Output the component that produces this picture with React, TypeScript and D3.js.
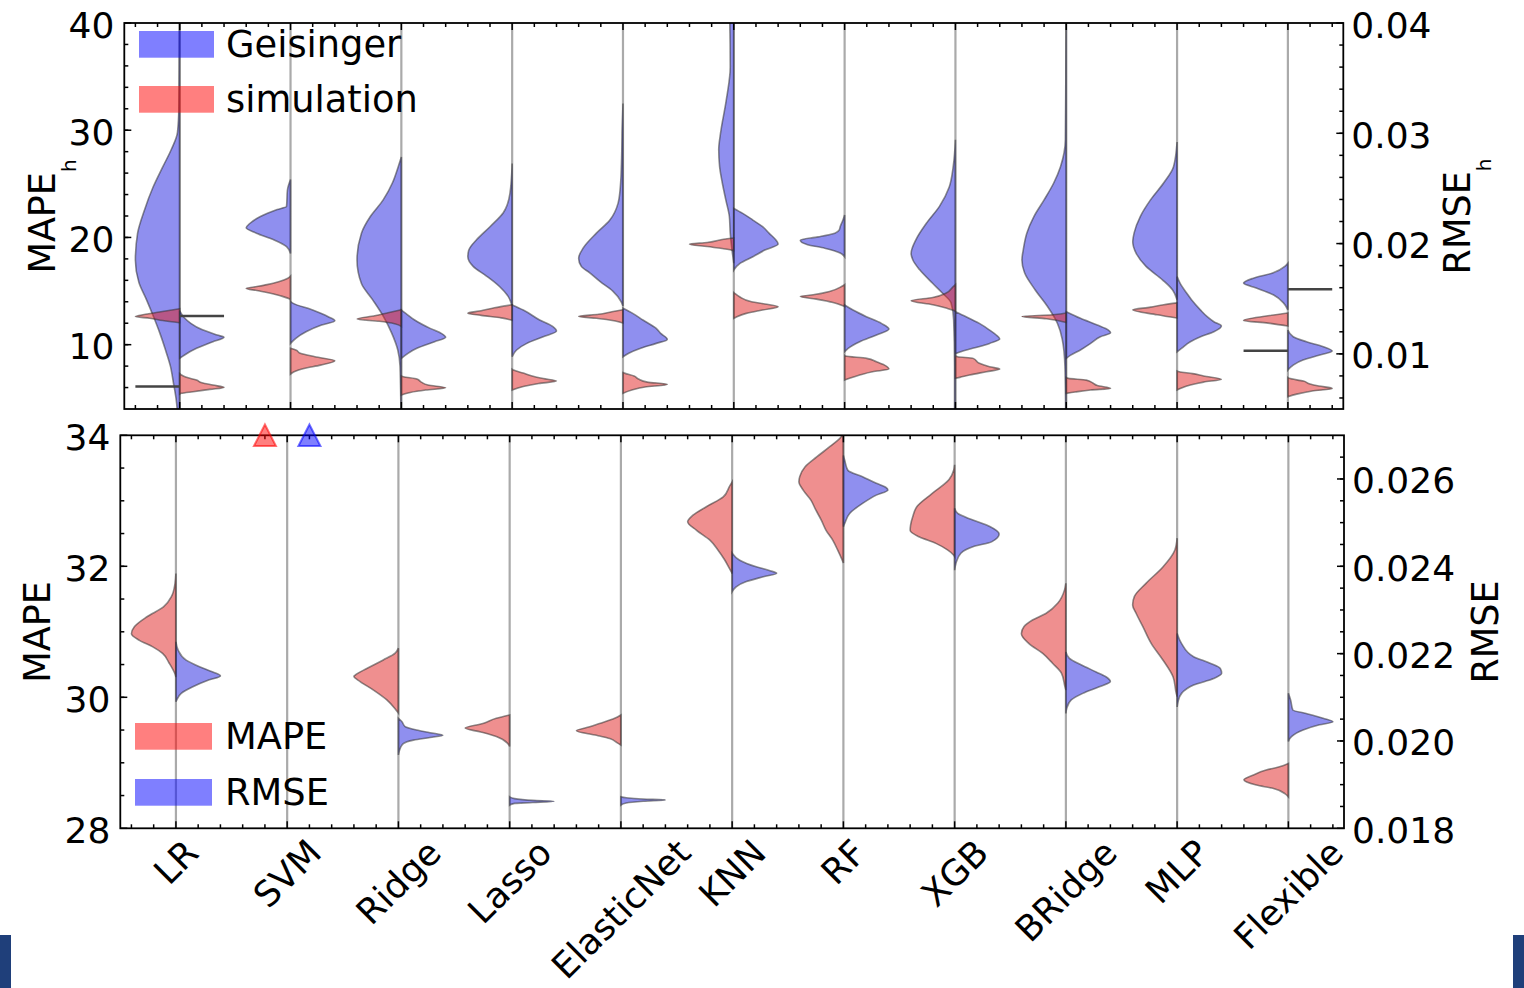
import React from 'react'
import * as d3 from 'd3'

type Prof = [number, number][]

// categories and tick labels
const categories = ['LR', 'SVM', 'Ridge', 'Lasso', 'ElasticNet', 'KNN', 'RF', 'XGB', 'BRidge', 'MLP', 'Flexible']
const mapeHTicks = [10, 20, 30, 40]
const rmseHTicks = [0.01, 0.02, 0.03, 0.04]
const mapeTicks = [28, 30, 32, 34]
const rmseTicks = [0.018, 0.02, 0.022, 0.024, 0.026]

// half-violin profiles: [value, relative width]
const geisingerMapeH: Prof[] = [
  [[44, 0], [38, 0.01], [32, 0.02], [29.8, 0.05], [28.2, 0.19], [26.6, 0.38], [24.7, 0.6], [22.5, 0.8], [20.4, 0.95], [17.9, 1], [15.8, 0.92], [14.2, 0.75], [12.6, 0.59], [11.1, 0.45], [9.5, 0.32], [8, 0.21], [6.4, 0.14], [4.9, 0.08], [2, 0.03], [0, 0]],
  [[25.4, 0], [24.4, 0.07], [22.9, 0.09], [22.6, 0.3], [21.95, 0.68], [21.3, 0.92], [20.9, 1], [20.4, 0.77], [19.8, 0.39], [19.15, 0.09], [18.5, 0]],
  [[27.5, 0], [26.6, 0.07], [25.1, 0.2], [23.5, 0.41], [21.95, 0.7], [20.4, 0.9], [17.9, 1], [15.7, 0.9], [14.2, 0.65], [12.6, 0.4], [11.1, 0.22], [9.5, 0.08], [8, 0.03], [4, 0.01], [0, 0]],
  [[26.9, 0], [24.1, 0.05], [22.3, 0.2], [21.0, 0.5], [19.8, 0.8], [18.8, 0.98], [18.2, 1], [17.3, 0.88], [16.4, 0.58], [15.4, 0.28], [14.5, 0.09], [13.6, 0]],
  [[32.5, 0], [30, 0.02], [27.5, 0.03], [24.7, 0.06], [23.2, 0.11], [21.6, 0.3], [20.4, 0.6], [19.0, 0.9], [18.07, 1], [17.3, 0.94], [16.7, 0.75], [15.9, 0.52], [15.0, 0.23], [14.0, 0.04], [13.6, 0]],
  [[50, 0], [46, 0.4], [43, 0.15], [40, 0.09], [35.9, 0.08], [32.8, 0.17], [29.7, 0.3], [28.2, 0.34], [26.6, 0.32], [25.1, 0.26], [23.5, 0.18], [21.95, 0.1], [20.4, 0.08], [18.5, 0.03], [17.6, 0]],
  [[22.1, 0], [21.6, 0.04], [21.0, 0.1], [20.7, 0.12], [20.4, 0.22], [20.05, 0.6], [19.75, 1], [19.35, 0.85], [19.0, 0.45], [18.55, 0.1], [18.2, 0]],
  [[29.1, 0], [26.6, 0.05], [24.7, 0.14], [22.9, 0.36], [21.3, 0.66], [19.8, 0.89], [18.5, 1], [17.9, 0.96], [17.0, 0.81], [15.7, 0.51], [14.8, 0.29], [13.9, 0.1], [12.3, 0.04], [8, 0.02], [3, 0.02], [1, 0]],
  [[42, 0], [40, 0.005], [35, 0.01], [29.1, 0.02], [26.6, 0.13], [25.1, 0.28], [23.5, 0.5], [21.95, 0.73], [20.4, 0.89], [18.84, 0.97], [17.9, 1], [16.7, 0.94], [15.1, 0.7], [13.6, 0.43], [12.0, 0.2], [10.5, 0.09], [8, 0.03], [3, 0.01], [1, 0]],
  [[28.9, 0], [26.6, 0.08], [25.1, 0.3], [23.5, 0.6], [21.95, 0.83], [20.4, 0.97], [19.6, 1], [18.5, 0.92], [17.3, 0.7], [16.05, 0.33], [15.1, 0.1], [14.2, 0]],
  [[17.6, 0], [17.3, 0.07], [16.7, 0.33], [16.2, 0.78], [15.74, 1], [15.27, 0.7], [14.65, 0.33], [13.9, 0.1], [13.25, 0]],
]

const simulationMapeH: Prof[] = [
  [[13.35, 0], [13.0, 0.53], [12.83, 0.77], [12.62, 1], [12.47, 0.68], [12.25, 0.38], [12.05, 0]],
  [[16.4, 0], [16.2, 0.06], [15.9, 0.25], [15.6, 0.53], [15.37, 0.83], [15.24, 1], [15.05, 0.76], [14.87, 0.53], [14.56, 0.23], [14.25, 0.02], [14.15, 0]],
  [[13.25, 0], [12.97, 0.3], [12.69, 0.6], [12.39, 1], [12.18, 0.5], [11.95, 0.15], [11.7, 0]],
  [[13.72, 0], [13.44, 0.4], [13.16, 0.7], [12.94, 1], [12.73, 0.7], [12.5, 0.25], [12.27, 0]],
  [[13.25, 0], [13.07, 0.25], [12.83, 0.55], [12.63, 1], [12.46, 0.6], [12.23, 0.2], [12.01, 0]],
  [[19.95, 0], [19.88, 0.15], [19.53, 0.6], [19.37, 1], [19.15, 0.6], [18.9, 0.15], [18.77, 0]],
  [[15.6, 0], [15.42, 0.07], [14.96, 0.34], [14.65, 0.71], [14.49, 1], [14.25, 0.64], [13.94, 0.26], [13.63, 0.04], [13.55, 0]],
  [[15.6, 0], [15.42, 0.05], [14.81, 0.21], [14.4, 0.51], [14.09, 1], [13.72, 0.51], [13.41, 0.21], [13.16, 0.02], [13.1, 0]],
  [[12.96, 0], [12.79, 0.3], [12.63, 1], [12.41, 0.45], [12.07, 0]],
  [[13.9, 0], [13.72, 0.3], [13.5, 0.6], [13.25, 1], [12.79, 0.45], [12.48, 0]],
  [[12.96, 0], [12.69, 0.45], [12.26, 1], [12.01, 0.45], [11.74, 0]],
]

const geisingerRmseH: Prof[] = [
  [[0.0139, 0], [0.01325, 0.11], [0.01277, 0.25], [0.0122, 0.5], [0.0117, 0.85], [0.0115, 1], [0.0111, 0.75], [0.0105, 0.38], [0.0099, 0.11], [0.0096, 0]],
  [[0.01473, 0], [0.01458, 0.06], [0.01397, 0.5], [0.01337, 0.85], [0.013, 1], [0.01261, 0.7], [0.012, 0.35], [0.01141, 0.12], [0.01095, 0]],
  [[0.01397, 0], [0.01367, 0.1], [0.01307, 0.3], [0.01231, 0.65], [0.01186, 0.9], [0.0115, 1], [0.0111, 0.75], [0.0105, 0.35], [0.01005, 0.15], [0.00959, 0]],
  [[0.01443, 0], [0.01397, 0.25], [0.01307, 0.62], [0.01246, 0.92], [0.01207, 1], [0.01155, 0.7], [0.01095, 0.33], [0.01035, 0.1], [0.00974, 0]],
  [[0.01413, 0], [0.01367, 0.22], [0.01307, 0.45], [0.01231, 0.75], [0.01186, 0.85], [0.01131, 1], [0.01095, 0.75], [0.0105, 0.4], [0.01005, 0.13], [0.00974, 0]],
  [[0.02319, 0], [0.02274, 0.2], [0.02213, 0.43], [0.02153, 0.65], [0.02093, 0.8], [0.02032, 0.95], [0.01996, 1], [0.01941, 0.7], [0.01881, 0.43], [0.01821, 0.14], [0.0176, 0]],
  [[0.01443, 0], [0.01397, 0.19], [0.01337, 0.49], [0.01276, 0.83], [0.01225, 1], [0.01171, 0.72], [0.0111, 0.34], [0.0105, 0.08], [0.01019, 0]],
  [[0.01382, 0], [0.01337, 0.24], [0.01276, 0.54], [0.01216, 0.77], [0.01171, 0.92], [0.01134, 1], [0.01095, 0.77], [0.0105, 0.39], [0.01019, 0.12], [0.01, 0]],
  [[0.01382, 0], [0.01322, 0.32], [0.01261, 0.7], [0.01216, 0.95], [0.01191, 1], [0.01155, 0.77], [0.01095, 0.55], [0.01035, 0.32], [0.00989, 0.1], [0.00959, 0]],
  [[0.017, 0], [0.01639, 0.07], [0.01549, 0.22], [0.01488, 0.33], [0.01397, 0.53], [0.01337, 0.68], [0.01291, 0.83], [0.01252, 1], [0.012, 0.83], [0.01155, 0.53], [0.0111, 0.3], [0.0105, 0.1], [0.01019, 0]],
  [[0.01216, 0], [0.01155, 0.12], [0.0111, 0.42], [0.01065, 0.8], [0.01025, 1], [0.00989, 0.72], [0.00944, 0.34], [0.00898, 0.12], [0.00853, 0]],
]

const simulationRmseH: Prof[] = [
  [[0.0082, 0], [0.00808, 0.04], [0.00787, 0.15], [0.00762, 0.38], [0.00738, 0.5], [0.00717, 0.75], [0.00696, 1], [0.00678, 0.68], [0.00657, 0.3], [0.00642, 0.04], [0.00635, 0]],
  [[0.0105, 0], [0.01035, 0.12], [0.01005, 0.22], [0.00974, 0.55], [0.00937, 1], [0.00898, 0.68], [0.00868, 0.3], [0.00838, 0.08], [0.00817, 0]],
  [[0.008, 0], [0.00793, 0.05], [0.00772, 0.35], [0.00744, 0.45], [0.00717, 0.6], [0.00693, 1], [0.00672, 0.55], [0.0065, 0.2], [0.00627, 0]],
  [[0.0086, 0], [0.00853, 0.03], [0.00826, 0.25], [0.00799, 0.45], [0.00776, 0.7], [0.00753, 1], [0.00731, 0.6], [0.00704, 0.25], [0.00672, 0]],
  [[0.0083, 0], [0.00823, 0.05], [0.00799, 0.25], [0.00772, 0.35], [0.00744, 0.55], [0.00723, 1], [0.007, 0.5], [0.00672, 0.2], [0.00642, 0]],
  [[0.01555, 0], [0.01549, 0.02], [0.01518, 0.13], [0.01473, 0.4], [0.01452, 0.7], [0.01427, 1], [0.01397, 0.65], [0.01367, 0.28], [0.01337, 0.07], [0.01322, 0]],
  [[0.00985, 0], [0.0098, 0.02], [0.00959, 0.5], [0.00928, 0.72], [0.00898, 0.9], [0.00862, 1], [0.00838, 0.63], [0.00808, 0.34], [0.00778, 0.11], [0.00762, 0]],
  [[0.0098, 0], [0.00974, 0.05], [0.00959, 0.4], [0.00914, 0.54], [0.00883, 0.77], [0.00862, 1], [0.00838, 0.7], [0.00808, 0.32], [0.00787, 0.1], [0.00778, 0]],
  [[0.00785, 0], [0.00778, 0.05], [0.00762, 0.45], [0.00735, 0.6], [0.00713, 0.7], [0.00687, 1], [0.00672, 0.55], [0.00654, 0.2], [0.00642, 0]],
  [[0.00845, 0], [0.00838, 0.05], [0.00821, 0.35], [0.00799, 0.6], [0.00769, 1], [0.00744, 0.6], [0.00717, 0.3], [0.0069, 0.1], [0.00672, 0]],
  [[0.00785, 0], [0.00778, 0.03], [0.00753, 0.35], [0.00726, 0.5], [0.00708, 0.7], [0.00687, 1], [0.00663, 0.55], [0.00635, 0.2], [0.00611, 0]],
]

// bottom panel: MAPE (left half) and RMSE (right half); SVM is off the scale
const mapeProf: Prof[] = [
  [[31.89, 0], [31.74, 0.02], [31.54, 0.1], [31.38, 0.28], [31.23, 0.65], [31.08, 0.93], [30.97, 1], [30.87, 0.82], [30.77, 0.52], [30.67, 0.3], [30.52, 0.15], [30.37, 0.03], [30.31, 0]],
  [],
  [[30.75, 0], [30.67, 0.08], [30.57, 0.34], [30.44, 0.71], [30.34, 0.97], [30.32, 1], [30.24, 0.86], [30.11, 0.56], [29.96, 0.26], [29.83, 0.08], [29.76, 0]],
  [[29.73, 0], [29.68, 0.3], [29.6, 0.6], [29.53, 1], [29.47, 0.65], [29.4, 0.3], [29.3, 0.05], [29.25, 0]],
  [[29.73, 0], [29.68, 0.14], [29.6, 0.48], [29.55, 0.7], [29.49, 1], [29.42, 0.55], [29.37, 0.25], [29.3, 0.07], [29.27, 0]],
  [[33.29, 0], [33.22, 0.06], [33.06, 0.2], [32.91, 0.58], [32.78, 0.88], [32.68, 1], [32.55, 0.8], [32.4, 0.5], [32.25, 0.32], [32.1, 0.17], [31.94, 0.04], [31.89, 0]],
  [[34.1, 0], [33.98, 0.05], [33.83, 0.3], [33.67, 0.6], [33.52, 0.86], [33.37, 0.98], [33.29, 1], [33.16, 0.9], [33.01, 0.73], [32.86, 0.62], [32.71, 0.5], [32.55, 0.39], [32.4, 0.24], [32.25, 0.13], [32.1, 0.03], [32.05, 0]],
  [[33.55, 0], [33.47, 0.02], [33.32, 0.13], [33.11, 0.51], [32.91, 0.85], [32.76, 0.94], [32.63, 0.99], [32.55, 1], [32.45, 0.8], [32.35, 0.42], [32.25, 0.16], [32.17, 0.02], [32.15, 0]],
  [[31.74, 0], [31.64, 0.03], [31.44, 0.18], [31.28, 0.45], [31.18, 0.75], [31.08, 0.94], [30.97, 1], [30.82, 0.83], [30.67, 0.52], [30.52, 0.3], [30.37, 0.1], [30.16, 0.02], [30.11, 0]],
  [[32.43, 0], [32.25, 0.05], [31.99, 0.32], [31.74, 0.7], [31.54, 0.96], [31.41, 1], [31.28, 0.92], [31.08, 0.77], [30.82, 0.58], [30.57, 0.32], [30.31, 0.09], [30.06, 0.02], [30.01, 0]],
  [[28.99, 0], [28.94, 0.2], [28.89, 0.5], [28.81, 0.8], [28.74, 1], [28.66, 0.72], [28.61, 0.35], [28.53, 0.08], [28.48, 0]],
]

const rmseProf: Prof[] = [
  [[0.02227, 0], [0.02208, 0.05], [0.02185, 0.23], [0.0217, 0.53], [0.02158, 0.83], [0.02149, 1], [0.0214, 0.75], [0.02124, 0.38], [0.02109, 0.12], [0.02094, 0.02], [0.0209, 0]],
  [],
  [[0.02052, 0], [0.02044, 0.08], [0.02033, 0.15], [0.02025, 0.41], [0.02019, 0.71], [0.02013, 1], [0.02008, 0.71], [0.02002, 0.34], [0.01994, 0.11], [0.01983, 0.04], [0.01968, 0]],
  [[0.01872, 0], [0.01868, 0.11], [0.01864, 0.52], [0.01862, 1], [0.01859, 0.52], [0.01857, 0.11], [0.01853, 0]],
  [[0.01872, 0], [0.0187, 0.12], [0.01867, 0.5], [0.01865, 1], [0.01862, 0.5], [0.01858, 0.12], [0.01853, 0]],
  [[0.0243, 0], [0.02414, 0.17], [0.02399, 0.54], [0.0239, 0.85], [0.02384, 1], [0.02376, 0.7], [0.02365, 0.32], [0.02353, 0.09], [0.02342, 0]],
  [[0.02654, 0], [0.02643, 0.03], [0.0262, 0.1], [0.02605, 0.43], [0.0259, 0.74], [0.02581, 0.95], [0.02575, 1], [0.02563, 0.74], [0.02544, 0.43], [0.02521, 0.14], [0.02498, 0.03], [0.02491, 0]],
  [[0.02533, 0], [0.02521, 0.07], [0.02506, 0.41], [0.02491, 0.79], [0.02474, 1], [0.02456, 0.83], [0.02445, 0.41], [0.0243, 0.14], [0.02407, 0.03], [0.02391, 0]],
  [[0.02204, 0], [0.02189, 0.08], [0.02174, 0.35], [0.02158, 0.68], [0.02147, 0.9], [0.02136, 1], [0.02124, 0.75], [0.02109, 0.38], [0.02094, 0.12], [0.02075, 0.02], [0.02063, 0]],
  [[0.02246, 0], [0.02223, 0.1], [0.02193, 0.37], [0.02178, 0.74], [0.02166, 0.97], [0.02155, 1], [0.02143, 0.82], [0.02128, 0.37], [0.02109, 0.1], [0.0209, 0.02], [0.02078, 0]],
  [[0.02109, 0], [0.02094, 0.05], [0.02071, 0.1], [0.02063, 0.4], [0.02052, 0.78], [0.02044, 1], [0.02037, 0.7], [0.02025, 0.33], [0.0201, 0.07], [0.01999, 0]],
]

// single-value marks in the top panel: [category index, value]
const refMapeH: [number, number][] = [[0, 6.1], [10, 9.43]]
const refRmseH: [number, number][] = [[0, 0.01343], [10, 0.01585]]
// SVM values above the bottom panel: [category index, value]
const offMape: [number, number][] = [[1, 34]]
const offRmse: [number, number][] = [[1, 0.027]]

const FONT = '"DejaVu Sans", sans-serif'
const BLUE = 'rgb(32,32,223)'
const RED = 'rgb(223,32,32)'

const xTop = d3.scaleLinear().domain([-0.5, 10.5]).range([124.3, 1343.3])
const yMapeH = d3.scaleLinear().domain([4, 40]).range([409, 23])
const yRmseH = d3.scaleLinear().domain([0.005, 0.04]).range([409, 23])
const xBot = d3.scaleLinear().domain([-0.5, 10.5]).range([120.3, 1344])
const yMape = d3.scaleLinear().domain([28, 34]).range([828.3, 435.3])
const yRmse = d3.scaleLinear().domain([0.018, 0.027]).range([828.3, 435.3])

const steps = (a: number, b: number, s: number) => d3.range(0, Math.round((b - a) / s) + 1).map(i => a + i * s)

let ctx: CanvasRenderingContext2D | null = null
function textWidth(s: string, size: number) {
  if (!ctx) ctx = document.createElement('canvas').getContext('2d')
  if (!ctx) return s.length * size * 0.6
  ctx.font = `${size}px "DejaVu Sans"`
  return ctx.measureText(s).width
}

function HalfViolin({ prof, cx, side, y, halfW, color }: { prof: Prof; cx: number; side: number; y: d3.ScaleLinear<number, number>; halfW: number; color: string }) {
  if (!prof.length) return null
  const pts = [...prof].sort((a, b) => y(a[0]) - y(b[0]))
  const area = d3.area<[number, number]>()
    .y(d => y(d[0]))
    .x0(cx)
    .x1(d => cx + side * d[1] * halfW)
    .curve(d3.curveMonotoneY)
  return <path d={area(pts) || ''} fill={color} fillOpacity={0.5} stroke="rgb(50,50,50)" strokeOpacity={0.55} strokeWidth={1.6} />
}

function Frame({ x, yl, yr, lMajor, lMinor, rMajor, rMinor, lFmt, rFmt }: any) {
  const [x0, x1] = x.range()
  const [y0, y1] = yl.range()
  const xMinor = steps(-0.4, 10.4, 0.2)
  return (
    <g stroke="#000" strokeWidth={1.5}>
      {xMinor.map((v, i) => {
        const major = Math.abs(v - Math.round(v)) < 1e-6
        const l = major ? 7 : 4
        return <g key={i}>
          <line x1={x(v)} x2={x(v)} y1={y0} y2={y0 - l} />
          <line x1={x(v)} x2={x(v)} y1={y1} y2={y1 + l} />
        </g>
      })}
      {lMinor.map((v: number, i: number) => <line key={'lm' + i} x1={x0} x2={x0 + 4} y1={yl(v)} y2={yl(v)} />)}
      {lMajor.map((v: number, i: number) => <line key={'lM' + i} x1={x0} x2={x0 + 7} y1={yl(v)} y2={yl(v)} />)}
      {rMinor.map((v: number, i: number) => <line key={'rm' + i} x1={x1} x2={x1 - 4} y1={yr(v)} y2={yr(v)} />)}
      {rMajor.map((v: number, i: number) => <line key={'rM' + i} x1={x1} x2={x1 - 7} y1={yr(v)} y2={yr(v)} />)}
      <rect x={x0} y={y1} width={x1 - x0} height={y0 - y1} fill="none" strokeWidth={1.8} />
      <g stroke="none" fill="#000" fontSize={36} fontFamily={FONT}>
        {lMajor.map((v: number, i: number) => <text key={'lt' + i} x={x0 - 10} y={yl(v) + 14.5} textAnchor="end">{lFmt(v)}</text>)}
        {rMajor.map((v: number, i: number) => <text key={'rt' + i} x={x1 + 8} y={yr(v) + 14.5}>{rFmt(v)}</text>)}
      </g>
    </g>
  )
}

export default function App() {
  const hwTop = 0.4 * (xTop(1) - xTop(0))
  const hwBot = 0.4 * (xBot(1) - xBot(0))
  return (
    <svg width={1524} height={988} style={{ position: 'absolute', left: 0, top: 0, background: '#fff' }} fontFamily={FONT}>
      <defs>
        <clipPath id="clipTop"><rect x={xTop(-0.5)} y={yMapeH(40)} width={xTop(10.5) - xTop(-0.5)} height={yMapeH(4) - yMapeH(40)} /></clipPath>
        <clipPath id="clipBot"><rect x={xBot(-0.5)} y={yMape(34)} width={xBot(10.5) - xBot(-0.5)} height={yMape(28) - yMape(34)} /></clipPath>
      </defs>

      {/* top panel */}
      <g clipPath="url(#clipTop)">
        {categories.map((c, i) => <line key={c} x1={xTop(i)} x2={xTop(i)} y1={yMapeH(40)} y2={yMapeH(4)} stroke="#aaa" strokeWidth={2.2} />)}
        {categories.map((c, i) => (
          <g key={c}>
            <HalfViolin prof={geisingerMapeH[i]} cx={xTop(i)} side={-1} y={yMapeH} halfW={hwTop} color={BLUE} />
            <HalfViolin prof={simulationMapeH[i]} cx={xTop(i)} side={-1} y={yMapeH} halfW={hwTop} color={RED} />
            <HalfViolin prof={geisingerRmseH[i]} cx={xTop(i)} side={1} y={yRmseH} halfW={hwTop} color={BLUE} />
            <HalfViolin prof={simulationRmseH[i]} cx={xTop(i)} side={1} y={yRmseH} halfW={hwTop} color={RED} />
          </g>
        ))}
        {refMapeH.map(([i, v]) => <line key={'rl' + i} x1={xTop(i) - hwTop} x2={xTop(i)} y1={yMapeH(v)} y2={yMapeH(v)} stroke="#444" strokeWidth={2.5} />)}
        {refRmseH.map(([i, v]) => <line key={'rr' + i} x1={xTop(i)} x2={xTop(i) + hwTop} y1={yRmseH(v)} y2={yRmseH(v)} stroke="#444" strokeWidth={2.5} />)}
      </g>
      <Frame x={xTop} yl={yMapeH} yr={yRmseH} lMajor={mapeHTicks} lMinor={steps(6, 38, 2)} rMajor={rmseHTicks} rMinor={steps(0.006, 0.038, 0.002)}
        lFmt={(v: number) => String(v)} rFmt={d3.format('.2f')} />

      {/* bottom panel */}
      <g clipPath="url(#clipBot)">
        {categories.map((c, i) => <line key={c} x1={xBot(i)} x2={xBot(i)} y1={yMape(34)} y2={yMape(28)} stroke="#aaa" strokeWidth={2.2} />)}
        {categories.map((c, i) => (
          <g key={c}>
            <HalfViolin prof={mapeProf[i]} cx={xBot(i)} side={-1} y={yMape} halfW={hwBot} color={RED} />
            <HalfViolin prof={rmseProf[i]} cx={xBot(i)} side={1} y={yRmse} halfW={hwBot} color={BLUE} />
          </g>
        ))}
      </g>
      <Frame x={xBot} yl={yMape} yr={yRmse} lMajor={mapeTicks} lMinor={steps(28.5, 33.5, 0.5)} rMajor={rmseTicks} rMinor={steps(0.0185, 0.0265, 0.0005)}
        lFmt={(v: number) => String(v)} rFmt={d3.format('.3f')} />

      {offMape.map(([i, v]) => {
        const cx = xBot(i - 0.2), cy = yMape(v)
        return <path key={'om' + i} d={`M${cx},${cy - 10.8}L${cx - 11},${cy + 10.8}L${cx + 11},${cy + 10.8}Z`} fill="rgb(255,0,0)" fillOpacity={0.5} stroke="rgb(255,0,0)" strokeOpacity={0.55} strokeWidth={2} />
      })}
      {offRmse.map(([i, v]) => {
        const cx = xBot(i + 0.2), cy = yRmse(v)
        return <path key={'or' + i} d={`M${cx},${cy - 10.8}L${cx - 11},${cy + 10.8}L${cx + 11},${cy + 10.8}Z`} fill="rgb(0,0,255)" fillOpacity={0.5} stroke="rgb(0,0,255)" strokeOpacity={0.55} strokeWidth={2} />
      })}

      {/* category labels */}
      {categories.map((c, i) => {
        const fs = 35.5
        const w = textWidth(c, fs)
        const s = (w + 1.164 * fs) * Math.SQRT1_2
        const cx = xBot(i), cy = 831.5 + s / 2
        return <text key={c} x={cx} y={cy} fontSize={fs} textAnchor="middle" dominantBaseline="central" transform={`rotate(-45 ${cx} ${cy})`}>{c}</text>
      })}

      {/* axis labels */}
      <text transform="translate(55,216.5) rotate(-90)" fontSize={36.5} textAnchor="middle">MAPE<tspan fontSize={20} dy={21}>h</tspan></text>
      <text transform="translate(1470,216.5) rotate(-90)" fontSize={36.5} textAnchor="middle">RMSE<tspan fontSize={20} dy={21}>h</tspan></text>
      <text transform="translate(50,632) rotate(-90)" fontSize={36.5} textAnchor="middle">MAPE</text>
      <text transform="translate(1498,632) rotate(-90)" fontSize={36.5} textAnchor="middle">RMSE</text>

      {/* legends */}
      <rect x={139} y={31} width={75} height={26.7} fill="rgb(0,0,255)" fillOpacity={0.5} />
      <rect x={139} y={86} width={75} height={26.7} fill="rgb(255,0,0)" fillOpacity={0.5} />
      <text x={226} y={57.4} fontSize={36.8}>Geisinger</text>
      <text x={226} y={112.4} fontSize={36.8}>simulation</text>
      <rect x={135} y={723} width={77} height={26.7} fill="rgb(255,0,0)" fillOpacity={0.5} />
      <rect x={135} y={779} width={77} height={26.7} fill="rgb(0,0,255)" fillOpacity={0.5} />
      <text x={225} y={749.4} fontSize={36.8}>MAPE</text>
      <text x={225} y={805.4} fontSize={36.8}>RMSE</text>

      {/* page edge bars */}
      <rect x={0} y={935} width={11} height={53} fill="#1f3f7a" />
      <rect x={1513} y={935} width={11} height={53} fill="#1f3f7a" />
    </svg>
  )
}
